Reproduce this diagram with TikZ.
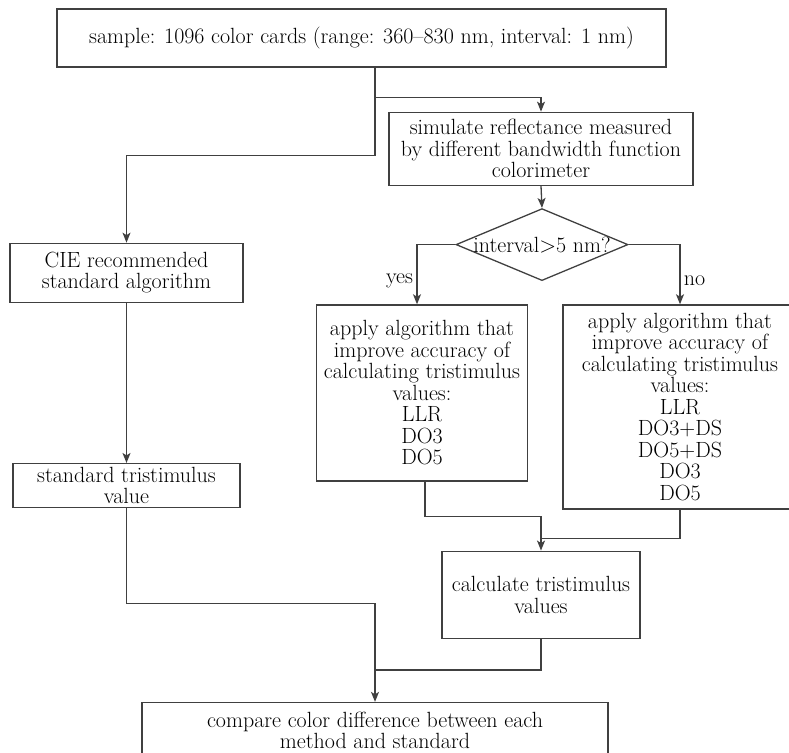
\documentclass[tikz,border=0pt]{standalone}
\usepackage{tikz}
\usetikzlibrary{shapes.geometric,arrows.meta,positioning,calc}

\begin{document}
\begin{tikzpicture}[
        font=\fontsize{22}{21.5}\selectfont,
        box/.style={draw=black!75, line width=1.3pt, align=center, inner sep=1pt},
        decision/.style={draw=black!75, line width=1.3pt, diamond, minimum width=172pt, minimum height=72pt, inner sep=0pt},
        arrow/.style={-{Stealth[length=10pt,width=8pt,inset=2.5pt]}, draw=black!75, line width=1.3pt},
        link/.style={draw=black!75, line width=1.3pt}
    ]
        \useasboundingbox (0,0) rectangle (789pt,-752pt);

        \node[box, minimum width=609pt, minimum height=58pt] (sample) at (361.5pt,-38pt) {sample: 1096 color cards (range: 360--830 nm, interval: 1 nm)};
        \node[box, minimum width=304pt, minimum height=73pt, below=44pt of sample, xshift=179.5pt] (sim) {simulate reflectance measured\\by different bandwidth function\\colorimeter};
        \node[decision, below=22pt of sim, xshift=1pt, label={center:interval>5 nm?}] (dec) {};
        \node[box, minimum width=233pt, minimum height=59pt, below=175pt of sample, xshift=-235pt] (cie) {CIE recommended\\standard algorithm};
        \node[box, minimum width=227pt, minimum height=44pt, below=160pt of cie] (std) {standard tristimulus\\value};

        \node[box, minimum width=211pt, minimum height=176pt, below=23pt of dec, xshift=-120pt] (yes) {apply algorithm that\\improve accuracy of\\calculating tristimulus\\values:\\LLR\\DO3\\DO5};
        \node[box, minimum width=234pt, minimum height=204pt, below=23pt of dec, xshift=138pt] (no) {apply algorithm that\\improve accuracy of\\calculating tristimulus\\values:\\LLR\\DO3+DS\\DO5+DS\\DO3\\DO5};
        \node[box, minimum width=198pt, minimum height=87pt, below=69pt of yes, xshift=119pt] (calc) {calculate tristimulus\\values};
        \node[box, minimum width=466pt, minimum height=56pt, below=63pt of calc, xshift=-166pt] (cmp) {compare color difference between each\\method and standard};

        \draw[arrow] ([xshift=13.5pt]sample.south) -- ++(0,-30pt) -| (sim.north);
        \draw[arrow] ([xshift=13.5pt]sample.south) -- ++(0,-88pt) -| (cie.north);
        \draw[arrow] (sim.south) -- (dec.north);
        \draw[arrow] (dec.west) -| node[pos=0.8, left] {yes} ([xshift=-5pt]yes.north);
        \draw[arrow] (dec.east) -| node[pos=0.8, right] {no} (no.north);
        \draw[arrow] (cie.south) -- (std.north);
        \draw[arrow] ([xshift=3pt]yes.south) -- ++(0,-35pt) -| (calc.north);
        \draw[link] (no.south) |- ([yshift=12pt]calc.north);
        \draw[arrow] (std.south) -- ++(0,-95pt) -| (cmp.north);
        \draw[link] (calc.south) |- ([yshift=32pt]cmp.north);
\end{tikzpicture}
\end{document}
